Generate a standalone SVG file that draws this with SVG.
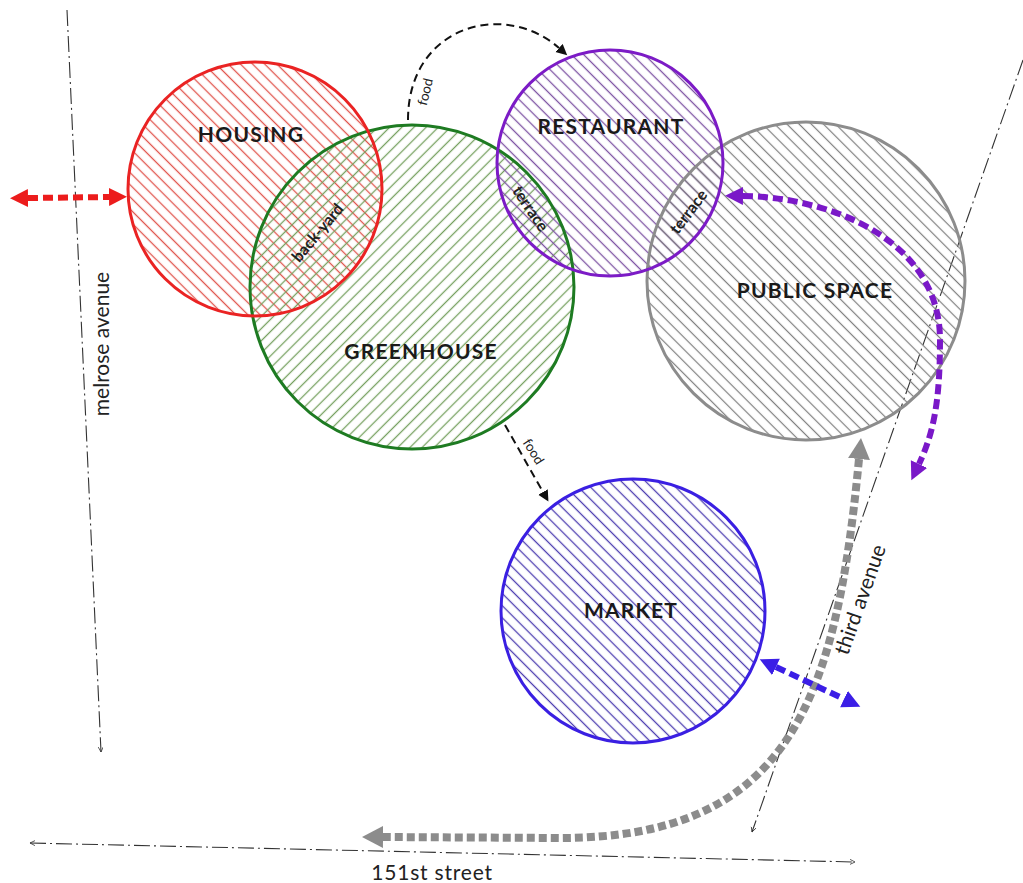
<svg xmlns="http://www.w3.org/2000/svg" width="1023" height="883" viewBox="0 0 1023 883">
<style>
.node{stroke-width:3}
.lbl{font-family:Lato,"Open Sans","DejaVu Sans",sans-serif;font-weight:bold;font-size:21px;letter-spacing:1.2px;fill:#1a1a1a;text-anchor:middle}
.sm{font-family:Lato,"Open Sans","DejaVu Sans",sans-serif;font-weight:bold;font-size:16px;fill:#222;text-anchor:middle}
.fd{font-family:Lato,"Open Sans","DejaVu Sans",sans-serif;font-size:13.5px;fill:#222;text-anchor:middle}
.road{fill:none;stroke:#333;stroke-width:1.1;stroke-dasharray:16 4 2 4}
.rlbl{font-family:Lato,"Open Sans","DejaVu Sans",sans-serif;font-size:21px;fill:#222;text-anchor:middle}
.flow{fill:none}
</style>
<defs>
<pattern id="hRed" patternUnits="userSpaceOnUse" width="8.6" height="10" patternTransform="rotate(-45)"><line x1="4.3" y1="0" x2="4.3" y2="10" stroke="#e0544c" stroke-width="1.3"/></pattern>
<pattern id="hGreen" patternUnits="userSpaceOnUse" width="8.6" height="10" patternTransform="rotate(45)"><line x1="4.3" y1="0" x2="4.3" y2="10" stroke="#76a060" stroke-width="1.3"/></pattern>
<pattern id="hPurple" patternUnits="userSpaceOnUse" width="8.6" height="10" patternTransform="rotate(-45)"><line x1="4.3" y1="0" x2="4.3" y2="10" stroke="#7d52a2" stroke-width="1.3"/></pattern>
<pattern id="hGray" patternUnits="userSpaceOnUse" width="8.6" height="10" patternTransform="rotate(-45)"><line x1="4.3" y1="0" x2="4.3" y2="10" stroke="#7e7e7e" stroke-width="1.2"/></pattern>
<pattern id="hBlue" patternUnits="userSpaceOnUse" width="8.6" height="10" patternTransform="rotate(-45)"><line x1="4.3" y1="0" x2="4.3" y2="10" stroke="#4c3db0" stroke-width="1.3"/></pattern>
<marker id="aRed" markerUnits="userSpaceOnUse" markerWidth="20" markerHeight="20" refX="0" refY="9" orient="auto-start-reverse"><path d="M0,0 L18,9 L0,18 z" fill="#ec1c1c"/></marker>
<marker id="aPurple" markerUnits="userSpaceOnUse" markerWidth="20" markerHeight="20" refX="0" refY="9" orient="auto-start-reverse"><path d="M0,0 L18,9 L0,18 z" fill="#7a18c8"/></marker>
<marker id="aBlue" markerUnits="userSpaceOnUse" markerWidth="20" markerHeight="20" refX="0" refY="9" orient="auto-start-reverse"><path d="M0,0 L18,9 L0,18 z" fill="#3b1ee6"/></marker>
<marker id="aGray" markerUnits="userSpaceOnUse" markerWidth="24" markerHeight="22" refX="0" refY="11" orient="auto-start-reverse"><path d="M0,0 L21,11 L0,22 z" fill="#8c8c8c"/></marker>
<marker id="aBlack" markerUnits="userSpaceOnUse" markerWidth="12" markerHeight="12" refX="0" refY="5.5" orient="auto-start-reverse"><path d="M0,0 L11,5.5 L0,11 z" fill="#111"/></marker>
<marker id="aTiny" markerUnits="userSpaceOnUse" markerWidth="6" markerHeight="6" refX="5" refY="2.5" orient="auto-start-reverse"><path d="M0,0 L5,2.5 L0,5" fill="none" stroke="#333" stroke-width="0.8"/></marker>
</defs>

<g id="roads">
<path class="road" d="M67,10 L101,752" marker-end="url(#aTiny)"/>
<text class="rlbl" transform="translate(109,344) rotate(-90)">melrose avenue</text>
<path class="road" d="M1023,60 L752,832" marker-end="url(#aTiny)"/>
<text class="rlbl" transform="translate(867,602) rotate(-70.5)">third avenue</text>
<path class="road" d="M30,843 L855,862" marker-start="url(#aTiny)" marker-end="url(#aTiny)"/>
<text class="rlbl" x="432" y="880" font-size="22" letter-spacing="0.8">151st street</text>
</g>

<g id="housing">
<circle cx="255" cy="189" r="127" fill="url(#hRed)"/>
</g>
<g id="greenhouse">
<circle cx="412" cy="287" r="162" fill="url(#hGreen)"/>
</g>
<g id="restaurant">
<circle cx="610" cy="163" r="113" fill="url(#hPurple)"/>
</g>
<g id="public-space">
<circle cx="806" cy="281" r="159" fill="url(#hGray)"/>
</g>
<g id="market">
<circle cx="633" cy="611" r="132" fill="url(#hBlue)"/>
</g>

<g id="outlines" class="node" fill="none">
<circle cx="412" cy="287" r="162" stroke="#1e7b22"/>
<circle cx="255" cy="189" r="127" stroke="#ea2323"/>
<circle cx="806" cy="281" r="159" stroke="#8c8c8c"/>
<circle cx="610" cy="163" r="113" stroke="#7c1bc6"/>
<circle cx="633" cy="611" r="132" stroke="#3a1fe2"/>
</g>

<g id="labels">
<text class="lbl" x="251" y="142">HOUSING</text>
<text class="lbl" x="611" y="134">RESTAURANT</text>
<text class="lbl" x="421" y="359">GREENHOUSE</text>
<text class="lbl" x="815" y="298">PUBLIC SPACE</text>
<text class="lbl" x="631" y="618">MARKET</text>
<text class="sm" transform="translate(318,233) rotate(-50) translate(0,5)">back-yard</text>
<text class="sm" transform="translate(530,209) rotate(56) translate(0,5)">terrace</text>
<text class="sm" transform="translate(689,212) rotate(-53) translate(0,5)">terrace</text>
<text class="fd" transform="translate(426,92) rotate(-76) translate(0,4)">food</text>
<text class="fd" transform="translate(533,452) rotate(58) translate(0,4)">food</text>
</g>

<g id="connectors">
<path class="flow" d="M28,198 L109,197" stroke="#ec1c1c" stroke-width="6" stroke-dasharray="10 5" marker-start="url(#aRed)" marker-end="url(#aRed)"/>
<path class="flow" d="M408,120 C408,25 505,0 559,48" stroke="#111" stroke-width="2" stroke-dasharray="8 5" marker-end="url(#aBlack)"/>
<path class="flow" d="M505,425 L543,492" stroke="#111" stroke-width="2" stroke-dasharray="8 5" marker-end="url(#aBlack)"/>
<path class="flow" d="M743,196 C830,197 940,240 940,340 C940,400 934,432 919,464" stroke="#7a18c8" stroke-width="6" stroke-dasharray="10 5" marker-start="url(#aPurple)" marker-end="url(#aPurple)"/>
<path class="flow" d="M859,459 C836,700 790,838 560,838 L383,837" stroke="#8c8c8c" stroke-width="8" stroke-dasharray="8 4" marker-start="url(#aGray)" marker-end="url(#aGray)"/>
<path class="flow" d="M776,667 L844,699" stroke="#3b1ee6" stroke-width="6" stroke-dasharray="10 5" marker-start="url(#aBlue)" marker-end="url(#aBlue)"/>
</g>
</svg>
